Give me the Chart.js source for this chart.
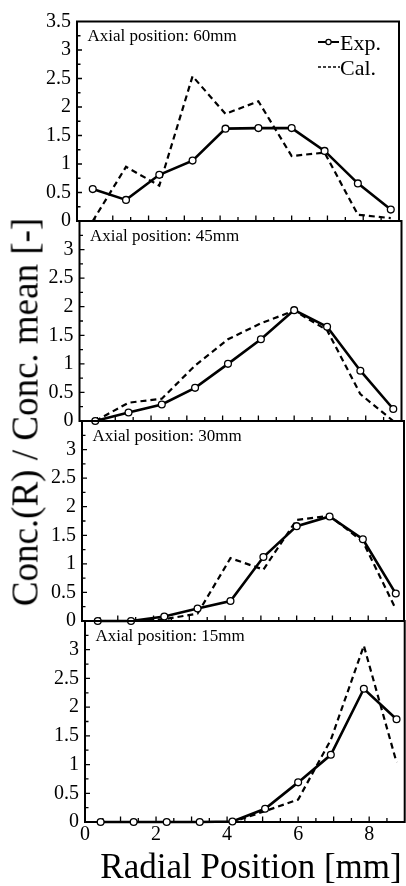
<!DOCTYPE html>
<html>
<head>
<meta charset="utf-8">
<script src="https://cdn.jsdelivr.net/npm/chart.js@4.4.1/dist/chart.umd.min.js"></script>
<style>
    html, body { margin: 0; padding: 0; background: #fff; overflow: hidden; }
    #wrap { position: relative; width: 406px; height: 886px; }
    #wrap canvas { position: absolute; left: 0; top: 0; }
    .axis-title {
        position: absolute;
        font-family: 'Liberation Serif', 'Times New Roman', serif;
        color: #000;
        line-height: 1;
        white-space: nowrap;
    }
    #ytitle { left: 25px; top: 412px; font-size: 37px; transform: translate(-50%, -50%) rotate(-90deg); }
    #xtitle { left: 251px; top: 849px; font-size: 35px; transform: translateX(-50%); }
</style>
</head>
<body>
<div id="wrap">
    <canvas id="panel60" width="410" height="886"></canvas>
    <canvas id="panel45" width="410" height="886"></canvas>
    <canvas id="panel30" width="410" height="886"></canvas>
    <canvas id="panel15" width="410" height="886"></canvas>
    <div id="ytitle" class="axis-title">Conc.(R) / Conc. mean [-]</div>
    <div id="xtitle" class="axis-title">Radial Position [mm]</div>
</div>
<script>
/* ---- data ---- */
var radialPos = [0.44, 1.37, 2.30, 3.23, 4.15, 5.07, 6.00, 6.92, 7.85, 8.77];

var exp60 = [0.56, 0.37, 0.81, 1.06, 1.62, 1.63, 1.63, 1.23, 0.66, 0.20];
var cal60 = [0.00, 0.95, 0.62, 2.54, 1.88, 2.10, 1.14, 1.20, 0.11, 0.05];

var exp45 = [0.00, 0.15, 0.29, 0.58, 1.00, 1.43, 1.94, 1.65, 0.88, 0.21];
var cal45 = [0.00, 0.32, 0.39, 0.97, 1.43, 1.71, 1.93, 1.59, 0.47, 0.00];

var exp30 = [0.00, 0.00, 0.08, 0.22, 0.35, 1.12, 1.66, 1.83, 1.43, 0.48];
var cal30 = [0.00, 0.00, 0.03, 0.13, 1.10, 0.90, 1.77, 1.84, 1.39, 0.21];

var exp15 = [0.00, 0.00, 0.00, 0.00, 0.01, 0.23, 0.69, 1.17, 2.32, 1.79];
var cal15 = [0.00, 0.00, 0.00, 0.00, 0.00, 0.19, 0.39, 1.43, 3.07, 1.04];

var panelCaptions = ['Axial position: 60mm', 'Axial position: 45mm', 'Axial position: 30mm', 'Axial position: 15mm'];
var seriesNames = ['Exp.', 'Cal.'];
var yTicks = [0, 0.5, 1, 1.5, 2, 2.5, 3, 3.5];
var xTicks = [0, 2, 4, 6, 8];

(function() {
    'use strict';

    var SERIF = "'Liberation Serif', 'Times New Roman', serif";
    var CANVAS_W = 410, CANVAS_H = 886, PANEL_W = 322;

    /* panel boxes (scan is slightly skewed, so each panel sits a bit further right) */
    var panelTop = [21.5, 221, 421, 621];
    var panelBottom = [221, 421, 621, 822];
    var panelLeft = [77, 79.5, 82, 85];

    function toPoints(ys) {
        return radialPos.map(function(x, i) { return { x: x, y: ys[i] }; });
    }

    /* frame, inward ticks, caption and legend */
    var framePlugin = {
        id: 'frame',
        beforeDatasetsDraw: function(chart) {
            var a = chart.chartArea, ctx = chart.ctx;
            var xs = chart.scales.x, ys = chart.scales.y;
            var v, p, len;
            ctx.save();
            ctx.strokeStyle = '#000';
            ctx.lineWidth = 2;
            ctx.strokeRect(a.left, a.top, a.right - a.left, a.bottom - a.top);
            ctx.lineWidth = 1.3;
            ctx.beginPath();
            for (v = 0.25; v < 3.5; v += 0.25) {
                p = ys.getPixelForValue(v);
                len = (v * 2) % 1 === 0 ? 5 : 3.5;
                ctx.moveTo(a.left, p);
                ctx.lineTo(a.left + len, p);
            }
            for (v = 0.5; v < 9; v += 0.5) {
                p = xs.getPixelForValue(v);
                len = v % 1 === 0 ? 5.5 : 4;
                ctx.moveTo(p, a.bottom);
                ctx.lineTo(p, a.bottom - len);
            }
            ctx.stroke();
            ctx.restore();
        },
        afterDraw: function(chart, args, opts) {
            var a = chart.chartArea, ctx = chart.ctx;
            ctx.save();
            ctx.fillStyle = '#000';
            ctx.textBaseline = 'alphabetic';
            ctx.font = '17px ' + SERIF;
            ctx.fillText(opts.caption, a.left + 10.5, a.top + 19.5);

            if (opts.legend) {
                var lx = a.right - 81, ly1 = a.top + 20.5, ly2 = a.top + 45.5;
                ctx.strokeStyle = '#000';
                /* Exp. : solid line with open circle */
                ctx.lineWidth = 2;
                ctx.beginPath();
                ctx.moveTo(lx, ly1);
                ctx.lineTo(lx + 21, ly1);
                ctx.stroke();
                ctx.lineWidth = 1.2;
                ctx.beginPath();
                ctx.arc(lx + 10.5, ly1, 2.6, 0, Math.PI * 2);
                ctx.fillStyle = '#fff';
                ctx.fill();
                ctx.stroke();
                /* Cal. : dashed line */
                ctx.lineWidth = 1.6;
                ctx.setLineDash([3, 2]);
                ctx.beginPath();
                ctx.moveTo(lx, ly2);
                ctx.lineTo(lx + 22, ly2);
                ctx.stroke();
                ctx.setLineDash([]);
                ctx.fillStyle = '#000';
                ctx.font = '22px ' + SERIF;
                ctx.fillText(seriesNames[0], lx + 22, ly1 + 7.5);
                ctx.fillText(seriesNames[1], lx + 22, ly2 + 7.5);
            }
            ctx.restore();
        }
    };

    function makePanel(canvasId, idx, expVals, calVals) {
        var isLast = idx === 3;
        var left = panelLeft[idx];

        return new Chart(document.getElementById(canvasId), {
            type: 'line',
            data: {
                datasets: [
                    {
                        label: seriesNames[0],
                        data: toPoints(expVals),
                        borderColor: '#000',
                        borderWidth: 2.6,
                        pointRadius: 3.4,
                        pointBorderWidth: 1.3,
                        pointBackgroundColor: '#fff',
                        pointBorderColor: '#000',
                        tension: 0,
                        clip: false,
                        order: 0
                    },
                    {
                        label: seriesNames[1],
                        data: toPoints(calVals),
                        borderColor: '#000',
                        borderWidth: 2.2,
                        borderDash: [6, 4],
                        pointRadius: 0,
                        tension: 0,
                        clip: false,
                        order: 1
                    }
                ]
            },
            options: {
                responsive: false,
                animation: false,
                events: [],
                layout: {
                    padding: {
                        top: panelTop[idx],
                        bottom: isLast ? 0 : CANVAS_H - panelBottom[idx],
                        left: 0,
                        right: CANVAS_W - (left + PANEL_W)
                    }
                },
                plugins: {
                    legend: { display: false },
                    tooltip: { enabled: false },
                    frame: { caption: panelCaptions[idx], legend: idx === 0 }
                },
                scales: {
                    x: {
                        type: 'linear',
                        min: 0,
                        max: 9,
                        display: isLast,
                        grid: { display: false, drawTicks: false },
                        border: { display: false },
                        afterBuildTicks: function(s) {
                            s.ticks = xTicks.map(function(v) { return { value: v }; });
                        },
                        afterFit: function(s) {
                            s.height = isLast ? CANVAS_H - panelBottom[3] : 0;
                        },
                        ticks: {
                            padding: 1,
                            maxRotation: 0,
                            autoSkip: false,
                            color: '#000',
                            font: { size: 20, family: SERIF },
                            callback: function(v) { return String(v); }
                        }
                    },
                    y: {
                        min: 0,
                        max: 3.5,
                        grid: { display: false, drawTicks: false },
                        border: { display: false },
                        afterBuildTicks: function(s) {
                            s.ticks = yTicks.map(function(v) { return { value: v }; });
                        },
                        afterFit: function(s) { s.width = left; },
                        ticks: {
                            padding: 6,
                            autoSkip: false,
                            color: '#000',
                            font: { size: 20, family: SERIF },
                            /* only the top panel shows 3.5 */
                            callback: function(v) {
                                return (v > 3.4 && idx !== 0) ? '' : String(v);
                            }
                        }
                    }
                }
            },
            plugins: [framePlugin]
        });
    }

    makePanel('panel60', 0, exp60, cal60);
    makePanel('panel45', 1, exp45, cal45);
    makePanel('panel30', 2, exp30, cal30);
    makePanel('panel15', 3, exp15, cal15);
})();
</script>
</body>
</html>
